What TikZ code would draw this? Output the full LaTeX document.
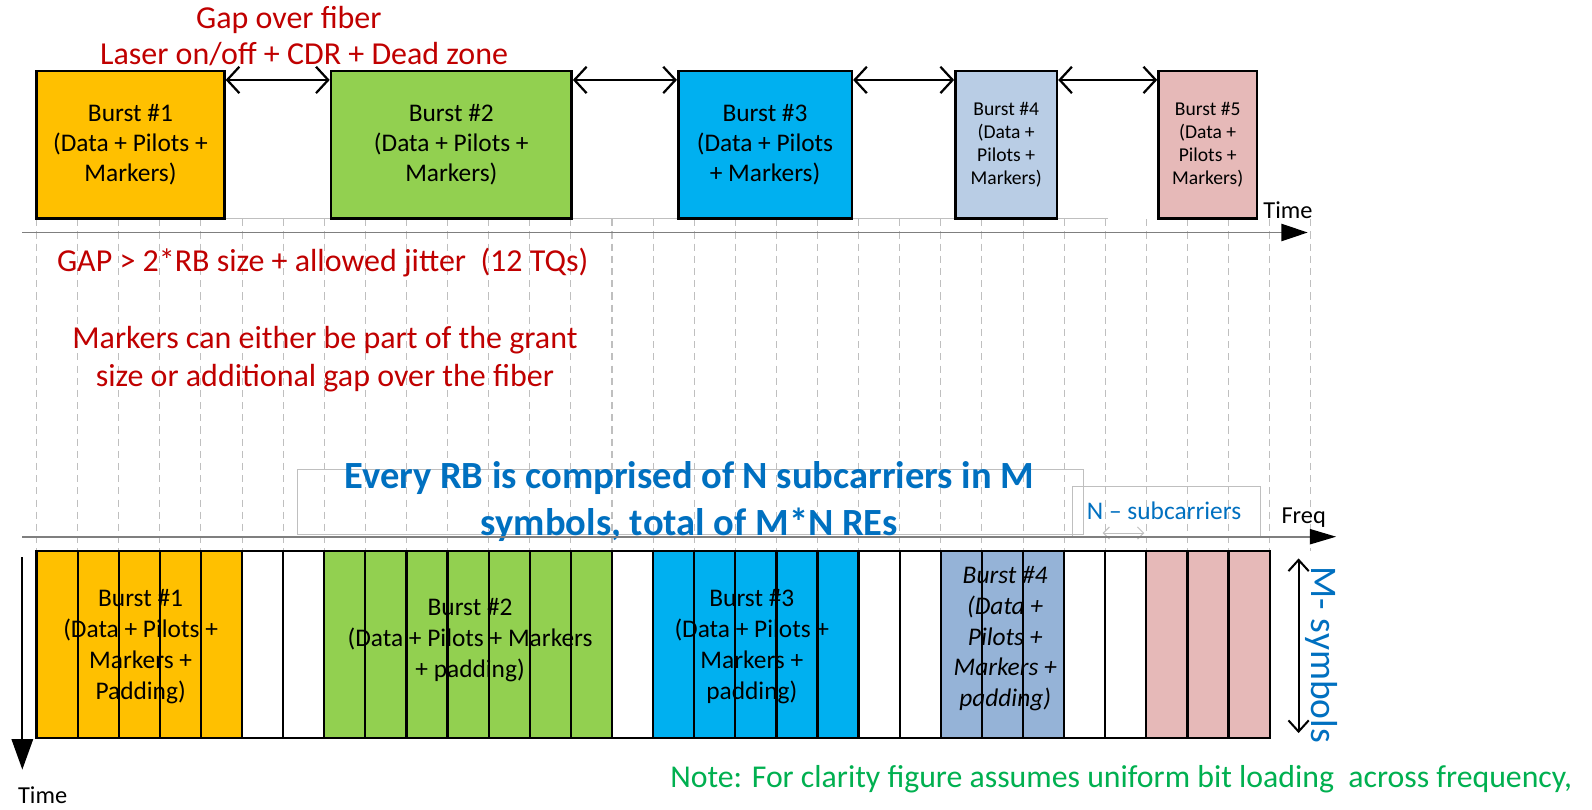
\documentclass[tikz,border=0pt]{standalone}
\usepackage{fontspec}
\setmainfont{Carlito}
\usetikzlibrary{arrows.meta}
\definecolor{cred}{HTML}{C00000}
\definecolor{cblue}{HTML}{0070C0}
\definecolor{cgreen}{HTML}{00B050}
\definecolor{orng}{HTML}{FFC000}
\definecolor{lgreen}{HTML}{92D050}
\definecolor{cyanb}{HTML}{00B0F0}
\definecolor{steel}{HTML}{B9CDE5}
\definecolor{steeld}{HTML}{95B3D7}
\definecolor{pinkb}{HTML}{E6B9B8}
\definecolor{gridg}{HTML}{BFBFBF}
\definecolor{axisg}{HTML}{7F7F7F}
\newcommand{\fsz}[2]{\fontsize{#1pt}{#2pt}\selectfont}
\begin{document}
\begin{tikzpicture}[x=1pt,y=-1pt,
  tbox/.style={draw=black, line width=2.5pt, align=center, inner sep=0pt, text=black, font=\fsz{25}{30}},
  sbox/.style={tbox, font=\fsz{19.3}{22.7}},
  btxt/.style={align=center, inner sep=0pt, text=black, font=\fsz{25}{30.5}},
  redt/.style={text=cred, inner sep=0pt, font=\fsz{31.5}{37}},
  gaparr/.style={line width=2.2pt, {Straight Barb[length=12pt,width=26pt]}-{Straight Barb[length=12pt,width=26pt]}},
  griddash/.style={gridg, line width=1pt, dash pattern=on 7pt off 5pt},
  axislbl/.style={inner sep=0pt, font=\fsz{24}{28}}
]
\useasboundingbox (0,0) rectangle (1568,797);
\fill[white] (0,0) rectangle (1568,797);
\def\cw{40.483}
% grid
\foreach \i in {0,...,31} \draw[griddash] ({36+\cw*\i},216) -- ({36+\cw*\i},543);
\draw[gridg, line width=0.8pt] (36,215.5) -- (1091,215.5);

% top title
\node[redt] (g1) at (284.5,20) {Gap over fiber};
\node[redt] (g2) at (299.5,53) {Laser on/off + CDR + Dead zone};

% top bursts
\node[tbox, fill=orng, minimum width=185pt, minimum height=145pt] (b1) at (128.5,142.5) {Burst \#1\\(Data + Pilots +\\Markers)};
\node[tbox, fill=lgreen, minimum width=237pt, minimum height=145pt] (b2) at (444.5,142.5) {Burst \#2\\(Data + Pilots +\\Markers)};
\node[tbox, fill=cyanb, minimum width=171pt, minimum height=145pt] (b3) at (753.5,142.5) {Burst \#3\\(Data + Pilots\\+ Markers)};
\node[sbox, fill=steel, minimum width=100pt, minimum height=145pt] (b4) at (991,142.5) {Burst \#4\\(Data +\\Pilots +\\Markers)};
\node[sbox, fill=pinkb, minimum width=97pt, minimum height=145pt] (b5) at (1189.5,142.5) {Burst \#5\\(Data +\\Pilots +\\Markers)};

\draw[gaparr] ([yshift=-10pt]b1.north east) -- ([yshift=-10pt]b2.north west);
\draw[gaparr] ([yshift=-10pt]b2.north east) -- ([yshift=-10pt]b3.north west);
\draw[gaparr] ([yshift=-10pt]b3.north east) -- ([yshift=-10pt]b4.north west);
\draw[gaparr] ([yshift=-10pt]b4.north east) -- ([yshift=-10pt]b5.north west);

% time axis
\coordinate (ta0) at (22,229);
\coordinate (ta1) at (1288,229);
\draw[axisg, line width=1.6pt, -{Triangle[length=26pt,width=17pt,color=black]}] (ta0) -- (ta1);
\node[axislbl] (timel) at (1268.5,207) {Time};

% middle texts
\node[redt, anchor=west] (gap) at (56,259) {GAP > 2*RB size + allowed jitter\ \ (12 TQs)};
\node[redt, align=center] (mk) at (320,353.5) {Markers can either be part of the grant\\size or additional gap over the fiber};

\node[draw=gridg, line width=1pt, minimum width=774pt, minimum height=64pt, inner sep=0pt] (rbbox) at (680,494) {};
\node[align=center, inner sep=0pt, text=cblue, font=\fsz{37.9}{46}\bfseries] (rbtxt) at (679,494) {Every RB is comprised of N subcarriers in M\\symbols, total of M*N REs};

\node[draw=gridg, line width=1pt, minimum width=185pt, minimum height=50pt, inner sep=0pt] (nbox) at (1148.5,504) {};
\node[inner sep=0pt, text=cblue, font=\fsz{25}{30}] (ntxt) at (1146.5,503) {N -- subcarriers};
\coordinate (na) at (1086,525);
\coordinate (nb) at (1127,525);
\draw[gridg, line width=1pt, {Straight Barb[length=6pt,width=12pt]}-{Straight Barb[length=6pt,width=12pt]}] (na) -- (nb);

% freq axis
\coordinate (fa0) at (22,528.6);
\coordinate (fa1) at (1316,528.6);
\draw[axisg, line width=1.6pt, -{Triangle[length=26pt,width=15pt,color=black]}] (fa0) -- (fa1);
\node[axislbl] (freql) at (1284,510) {Freq};

% bottom row fills
\foreach \a/\b/\c in {0/5/orng, 5/7/white, 7/14/lgreen, 14/15/white, 15/20/cyanb, 20/22/white, 22/25/steeld, 25/27/white, 27/30/pinkb}
  \fill[\c] ({36+\cw*\a},543) rectangle ({36+\cw*\b},727);

\node[btxt] (t1) at (138.5,637) {Burst \#1\\(Data + Pilots +\\Markers +\\Padding)};
\node[btxt] (t2) at (463,630) {Burst \#2\\(Data + Pilots + Markers\\+ padding)};
\node[btxt] (t3) at (740.5,637) {Burst \#3\\(Data + Pilots +\\Markers +\\padding)};
\node[btxt, font=\fsz{25}{30.5}\itshape] (t4) at (990,629) {Burst \#4\\(Data +\\Pilots +\\Markers +\\padding)};

\foreach \i in {0,...,29} \draw[line width=2.2pt] ({36+\cw*\i},543) rectangle ({36+\cw*(\i+1)},727);

% vertical time arrow
\coordinate (va0) at (22,549);
\coordinate (va1) at (22,758);
\draw[line width=2pt, -{Triangle[length=30pt,width=21pt]}] (va0) -- (va1);
\node[axislbl] (timeb) at (42,783) {Time};

% M-symbols
\coordinate (ma0) at (1279,550);
\coordinate (ma1) at (1279,722);
\draw[line width=2pt, {Straight Barb[length=11pt,width=20pt]}-{Straight Barb[length=11pt,width=20pt]}] (ma0) -- (ma1);
\node[rotate=-90, inner sep=0pt, text=cblue, font=\fsz{37}{44}] (msym) at (1302,645) {M- symbols};

% note
\node[anchor=west, inner sep=0pt, text=cgreen, font=\fsz{31.3}{37}] (note) at (660,767) {Note: For clarity figure assumes uniform bit loading\ \ across frequency,};
\end{tikzpicture}
\end{document}
